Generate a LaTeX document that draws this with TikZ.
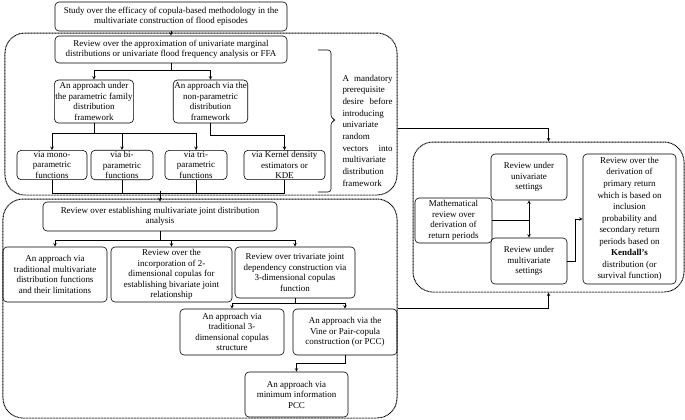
\documentclass[tikz,border=0pt]{standalone}
\usepackage{fontspec}
\setmainfont{Liberation Serif}
\begin{document}
\begin{tikzpicture}[x=1bp,y=-1bp,>=stealth,line width=0.6pt,
	font=\fontsize{9}{10.6}\selectfont,
	box/.style={draw,rounded corners=4bp,align=center,inner sep=1bp},
	bx/.style 2 args={box,minimum width=#1bp,minimum height=#2bp},
	grp/.style={draw,dash pattern=on 0.9bp off 0.6bp,line width=1bp,rounded corners=20bp}]
	\useasboundingbox (0,0) rectangle (685,419);
	% dotted groups
	\node[grp,minimum width=392bp,minimum height=162bp] (uniGrp) at (201,114) {};
	\node[grp,minimum width=394bp,minimum height=219bp] (mulGrp) at (200,308.5) {};
	\node[grp,minimum width=271bp,minimum height=150bp] (retGrp) at (548.5,217) {};
	% univariate part
	\node[bx={232}{29}] (top) at (171,16.5) {Study over the efficacy of copula-based methodology in the\\ multivariate construction of flood episodes};
	\node[bx={232}{27}] (revU) at (171,49.5) {Review over the approximation of univariate marginal\\ distributions or univariate flood frequency analysis or FFA};
	\node[bx={62}{43}] (param) at (94,101.5) {An approach under\\ the parametric family\\ distribution\\ framework};
	\node[bx={61}{43}] (nonpar) at (210.5,101.5) {An approach via the\\ non-parametric\\ distribution\\ framework};
	\node[bx={70}{26}] (mono) at (52,165) {via mono-\\ parametric\\ functions};
	\node[bx={62}{26}] (bi) at (122,165) {via bi-\\ parametric\\ functions};
	\node[bx={62}{26}] (tri) at (196,165) {via tri-\\ parametric\\ functions};
	\node[bx={81}{26}] (kde) at (284.5,165) {via Kernel density\\ estimators or\\ KDE};
	\draw[rounded corners=3bp] (318,50) -| (331,118) -- (336,120) -- (331,122) |- (318,192);
	\node[text width=50bp,align=left,inner sep=0pt,font=\fontsize{9}{11.7}\selectfont] (note) at (367.5,130.5)
		{A\hfill mandatory\\ prerequisite\\ desire\hfill before\\ introducing\\ univariate\\ random\\ vectors\hfill into\\ multivariate\\ distribution\\ framework};
	% multivariate part
	\node[bx={234}{29}] (revM) at (160,216.5) {Review over establishing multivariate joint distribution\\ analysis};
	\node[bx={104}{55}] (trad) at (55,274.5) {An approach via\\ traditional multivariate\\ distribution functions\\ and their limitations};
	\node[bx={121}{55}] (twod) at (171.5,274.5) {Review over the\\ incorporation of 2-\\ dimensional copulas for\\ establishing\ bivariate joint\\ relationship};
	\node[bx={120}{51}] (triv) at (295,272.5) {Review over\ trivariate joint\\ dependency construction via\\ 3-dimensional copulas\\ function};
	\node[bx={104}{46}] (trad3) at (232,332) {An approach via\\ traditional 3-\\ dimensional copulas\\ structure};
	\node[bx={104}{46}] (vine) at (345,332) {An approach via the\\ Vine or Pair-copula\\ construction (or PCC)};
	\node[bx={103}{45}] (minpcc) at (296.5,394.5) {An approach via\\ minimum information\\ PCC};
	% return periods
	\node[bx={77}{45}] (math) at (453.5,220.5) {Mathematical\\ review over\\ derivation of\\ return periods};
	\node[bx={76}{46}] (uni) at (529,177) {Review under\\ univariate\\ settings};
	\node[bx={76}{46}] (multi) at (529,261) {Review under\\ multivariate\\ settings};
	\node[bx={93}{130},font=\fontsize{9}{11.6}\selectfont] (kend) at (629.5,219) {Review over the\\ derivation of\\ primary return\\ which is based on\\ inclusion\\ probability and\\ secondary return\\ periods based on\\ \textbf{Kendall’s}\\ distribution (or\\ survival function)};
	% connectors
	\draw[->] (top) -- (revU);
	\draw[->] (revU.south) -- ++(0,7) -| (param.north);
	\draw[->] (revU.south) -- ++(0,7) -| (nonpar.north);
	\draw[->] (param.south) -- ++(0,10) -| (mono.north);
	\draw[->] (param.south) -- ++(0,10) -| (bi.north);
	\draw[->] (param.south) -- ++(0,10) -| (tri.north);
	\draw[->] (nonpar.south) -- ++(0,12) -| (kde.north);
	\draw (mono.south) -- ++(0,13) -| (kde.south);
	\draw (bi.south) -- ++(0,13);
	\draw (tri.south) -- ++(0,13);
	\draw[->,thick] ([yshift=11bp]revM.north) -- (revM.north);
	\draw[->] (revM.south) -- ++(0,9) -| (trad.north);
	\draw[->] (revM.south) -- ++(0,9) -| (twod.north);
	\draw[->] (revM.south) -- ++(0,9) -| (triv.north);
	\draw[->] (triv.south) -- ++(0,5) -| (trad3.north);
	\draw[->] (triv.south) -- ++(0,5) -| (vine.north);
	\draw[->] (vine.south) -- ++(0,8) -| (minpcc.north);
	\draw[->] ([yshift=-14bp]uniGrp.east) -| (retGrp.north);
	\draw[->] (mulGrp.east) -| (retGrp.south);
	\draw (math.east) -- (math.east -| uni.south);
	\draw[<->] (uni.south) -- (multi.north);
	\draw[->] (multi.east) -- ++(8,0) |- (kend.west);
\end{tikzpicture}
\end{document}
